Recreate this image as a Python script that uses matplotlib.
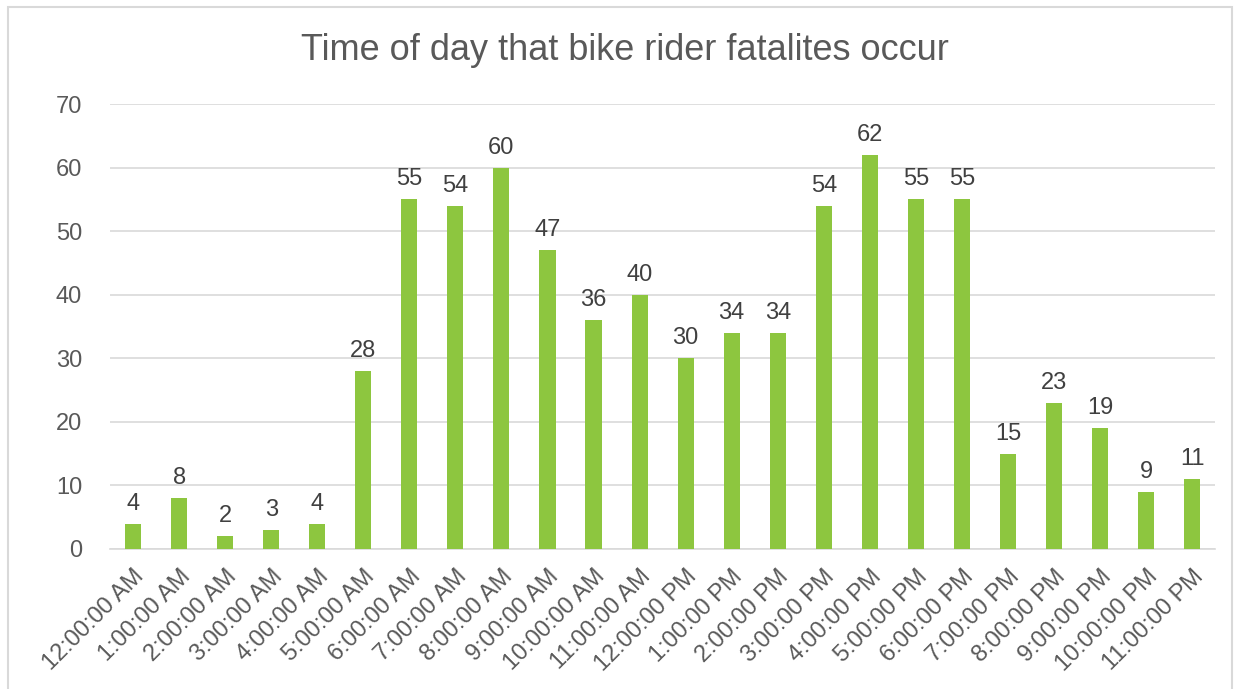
import matplotlib.pyplot as plt
from matplotlib.patches import Rectangle

plt.rcParams['font.family'] = ['Liberation Sans', 'DejaVu Sans']

# часы суток и число погибших велосипедистов
hours = ['12:00:00 AM', '1:00:00 AM', '2:00:00 AM', '3:00:00 AM', '4:00:00 AM',
         '5:00:00 AM', '6:00:00 AM', '7:00:00 AM', '8:00:00 AM', '9:00:00 AM',
         '10:00:00 AM', '11:00:00 AM', '12:00:00 PM', '1:00:00 PM', '2:00:00 PM',
         '3:00:00 PM', '4:00:00 PM', '5:00:00 PM', '6:00:00 PM', '7:00:00 PM',
         '8:00:00 PM', '9:00:00 PM', '10:00:00 PM', '11:00:00 PM']
fatalities = [4, 8, 2, 3, 4, 28, 55, 54, 60, 47, 36, 40,
              30, 34, 34, 54, 62, 55, 55, 15, 23, 19, 9, 11]
y_ticks = [0, 10, 20, 30, 40, 50, 60, 70]

fig = plt.figure(figsize=(12.4, 6.89), dpi=100)
ax = fig.add_axes([0.0887, 0.2032, 0.8913, 0.6458])

x = range(len(hours))
ax.bar(x, fatalities, width=0.35, color='#8DC63F', zorder=3)

for xi, v in zip(x, fatalities):
    ax.text(xi, v + 1.4, str(v), ha='center', va='bottom',
            fontsize=17, color='#404040')

ax.set_xlim(-0.5, len(hours) - 0.5)
ax.set_ylim(0, 70)
ax.set_yticks(y_ticks)
ax.yaxis.grid(True, color='#D9D9D9', linewidth=1.2, zorder=0)
ax.tick_params(axis='y', length=0, labelsize=17, labelcolor='#595959', pad=20)
ax.tick_params(axis='x', length=0, labelsize=17, labelcolor='#595959', pad=12)
ax.set_xticks(list(x))
ax.set_xticklabels(hours, rotation=45, ha='right', rotation_mode='anchor')

for side in ['top', 'right', 'left']:
    ax.spines[side].set_visible(False)
ax.spines['bottom'].set_color('#D9D9D9')
ax.spines['bottom'].set_linewidth(1.2)

fig.text(0.504, 0.927, 'Time of day that bike rider fatalites occur',
         ha='center', va='center', fontsize=26, color='#595959')

# рамка вокруг диаграммы
fig.patches.append(Rectangle((8 / 1240, -0.05), 1224 / 1240, 1.05 - 7 / 689,
                             transform=fig.transFigure, fill=False,
                             edgecolor='#D9D9D9', linewidth=1.5))

fig.savefig('out.png', dpi=100)
